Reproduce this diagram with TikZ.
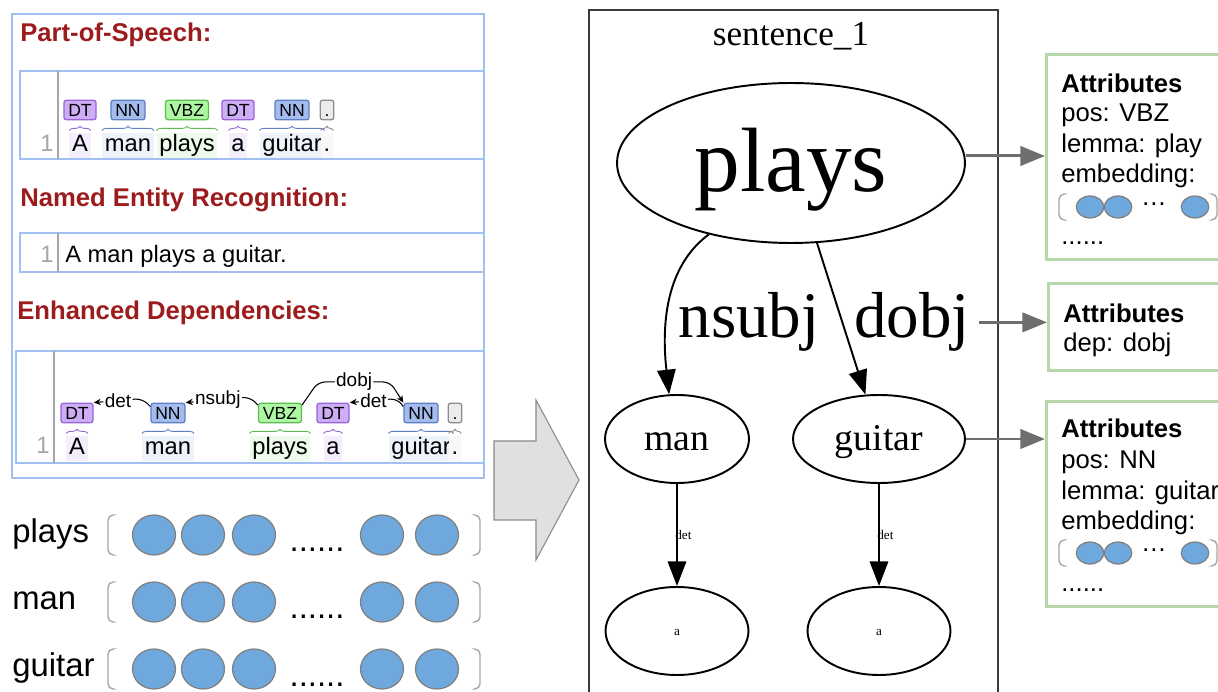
\documentclass[tikz,border=0pt]{standalone}
\usepackage{fontspec}
\setmainfont{Liberation Sans}
\newfontfamily\gvfont{Liberation Serif}
\usetikzlibrary{positioning,shapes.geometric,arrows.meta,decorations.pathreplacing}

\definecolor{hdred}{HTML}{9C1B1D}
\definecolor{panelblue}{HTML}{A2BFF2}
\definecolor{numgray}{HTML}{A6A6A6}
\definecolor{dtfill}{HTML}{CCADF6}
\definecolor{dtline}{HTML}{9A63D8}
\definecolor{dtword}{HTML}{F4EEFC}
\definecolor{nnfill}{HTML}{A4BCED}
\definecolor{nnline}{HTML}{5F7FC4}
\definecolor{nnword}{HTML}{EEF2FB}
\definecolor{vbfill}{HTML}{ADF6A2}
\definecolor{vbline}{HTML}{5DBB52}
\definecolor{vbword}{HTML}{EEFBEC}
\definecolor{pufill}{HTML}{EBEBEB}
\definecolor{puline}{HTML}{8C8C8C}
\definecolor{puword}{HTML}{F8F8F8}
\definecolor{embblue}{HTML}{6FA8DC}
\definecolor{embedge}{HTML}{7F7F7F}
\definecolor{attrgreen}{HTML}{B6D7A8}
\definecolor{conngray}{HTML}{6E6E6E}
\definecolor{boxdark}{HTML}{3A3A3A}
\definecolor{arrowfill}{HTML}{E0E0E0}
\definecolor{arrowline}{HTML}{8A8A8A}

\newcommand{\setsz}[1]{\fontsize{#1}{#1}\selectfont}
\newcommand{\gvsz}[1]{\gvfont\fontsize{#1}{#1}\selectfont}

\tikzset{
	header/.style={anchor=base west, inner sep=0pt, text=hdred, font=\bfseries\setsz{14.6}},
	panel/.style={draw=panelblue, line width=1.1pt},
	numsep/.style={draw=numgray, line width=0.7pt},
	lineno/.style={anchor=base, inner sep=0pt, text=numgray, font=\setsz{13.5}},
	sent/.style={anchor=base west, inner sep=0pt, font=\setsz{13.5}},
	tag/.style={draw=#1line, fill=#1fill, rounded corners=1.5pt, line width=0.7pt,
		inner xsep=2.5pt, inner ysep=2pt, text height=7.2pt, text depth=0pt, font=\setsz{10}},
	word/.style={fill=#1word, anchor=base, inner xsep=1.5pt, inner ysep=1pt,
		text height=10pt, text depth=2.6pt, font=\setsz{13.5}},
	tagbrace/.style={draw=#1line, line width=0.5pt, decorate, decoration={brace, amplitude=2.5pt}},
	deparc/.style={draw, line width=0.6pt, rounded corners=4pt, -{Stealth[length=4pt, width=3.6pt]}},
	deplbl/.style={fill=white, inner sep=0.8pt, font=\setsz{10.8}},
	emblbl/.style={anchor=base west, inner sep=0pt, font=\setsz{18.7}},
	embdot/.style={ellipse, draw=embedge, fill=embblue, line width=0.7pt,
		minimum width=0.86cm, minimum height=0.8cm, inner sep=0pt},
	attrdot/.style={embdot, minimum width=0.55cm, minimum height=0.44cm},
	brk/.style={draw=numgray, line width=0.8pt, rounded corners=3pt},
	gvnode/.style={draw, ellipse, line width=1.1pt, inner sep=0pt, font=\gvsz{#1},
		text height={0.8*#1pt}, text depth={0.18*#1pt}},
	gvlbl/.style={anchor=base, inner sep=0pt, font=\gvsz{#1}},
	gvedge/.style={draw, line width=1.1pt, -{Triangle[length=14pt, width=10.5pt]}},
	attrbox/.style={draw=attrgreen, line width=1.7pt, anchor=north west, minimum width=4cm, inner sep=0pt},
	attrtxt/.style={anchor=base west, inner sep=0pt, font=\setsz{14.6}},
	attrell/.style={attrtxt, anchor=base, text height=2pt, text depth=0pt},
	attrarrow/.style={draw=conngray, line width=1.7pt, -{Triangle[length=14pt, width=11pt]}}
}

\begin{document}
\begin{tikzpicture}[x=0.02cm, y=-0.02cm]
	\useasboundingbox (0,0) rectangle (1218,692);

	\draw[panel] (12,14) rectangle (484,478);
	\node[header] (hpos) at (20,42) {Part-of-Speech:};
	\draw[panel] (20,71) rectangle (484,159);
	\draw[numsep] (58,71) -- (58,159);
	\node[lineno] (npos) at (47,152) {1};
	\foreach \tg/\w/\x/\c [count=\i] in {DT/A/80/dt, NN/man/128/nn, VBZ/plays/187/vb, DT/a/238/dt, NN/guitar/292/nn, ./{.}/327/pu} {
		\node[tag=\c] (ptag\i) at (\x,110) {\tg};
		\node[word=\c] (pword\i) at (\x,152) {\w};
		\draw[tagbrace=\c] ([yshift=1pt]pword\i.north west) -- ([yshift=1pt]pword\i.north east);
	}

	\node[header] (hner) at (20,207) {Named Entity Recognition:};
	\draw[panel] (20,233) rectangle (484,272);
	\draw[numsep] (58,233) -- (58,272);
	\node[lineno] (nner) at (47,263) {1};
	\node[sent] (ner) at (65,263) {A man plays a guitar.};

	\node[header] (hdep) at (17,320) {Enhanced Dependencies:};
	\draw[panel] (16,351) rectangle (484,463);
	\draw[numsep] (54,351) -- (54,463);
	\node[lineno] (ndep) at (43,454) {1};
	\foreach \tg/\w/\x/\c [count=\i] in {DT/A/77/dt, NN/man/168/nn, VBZ/plays/280/vb, DT/a/333/dt, NN/guitar/421/nn, ./{.}/455/pu} {
		\node[tag=\c] (dtag\i) at (\x,413) {\tg};
		\node[word=\c] (dword\i) at (\x,455) {\w};
		\draw[tagbrace=\c] ([yshift=1pt]dword\i.north west) -- ([yshift=1pt]dword\i.north east);
	}
	\draw[deparc] (dtag2.160) -- ++(-8,-8) -- node[deplbl] {det} (dtag1.north east);
	\draw[deparc] (dtag3.160) -- ++(-8,-8) -- node[deplbl] {nsubj} (dtag2.north east);
	\draw[deparc] (dtag3.20) -- ++(16,-23) -- node[deplbl] {dobj} ++(72,0) -- (dtag5.north west);
	\draw[deparc] (dtag5.160) -- ++(-6,-8) -- node[deplbl] {det} (dtag4.north east);

	\foreach \w/\y in {plays/535, man/602, guitar/669} {
		\node[emblbl] (lbl-\w) at (12,\y+8) {\w};
		\draw[brk] (113,\y-20) -- (108,\y-20) -- (108,\y+20) -- (113,\y+20);
		\draw[brk] (475,\y-20) -- (480,\y-20) -- (480,\y+20) -- (475,\y+20);
		\foreach \cx [count=\k] in {154,203,254,382,437}
			\node[embdot] (emb-\w-\k) at (\cx,\y) {};
		\node[emblbl, anchor=base] (gap-\w) at (317,\y+17) {......};
	}

	\draw[fill=arrowfill, draw=arrowline, line width=0.6pt] (494,441) -- (536,441) -- (536,400) -- (579,480) -- (536,560) -- (536,520) -- (494,520) -- cycle;

	\draw[draw=boxdark, line width=1.5pt] (589,720) -- (589,10) -- (998,10) -- (998,720);
	\node[gvlbl=20] (title) at (791,46) {sentence\_1};
	\node[gvnode=52, minimum width=6.96cm, minimum height=3.2cm] (plays) at (791,163) {plays};
	\node[gvnode=21.5, minimum width=2.88cm, minimum height=1.76cm] (man) at (677,439) {man};
	\node[gvnode=21.5, minimum width=3.44cm, minimum height=1.76cm] (guitar) at (879,439) {guitar};
	\node[gvnode=7.5, minimum width=2.86cm, minimum height=1.76cm] (detman) at (677,631) {a};
	\node[gvnode=7.5, minimum width=2.86cm, minimum height=1.76cm] (detguitar) at (879,631) {a};
	\draw[gvedge] (plays.221) .. controls +(-38,28) and +(-9,-81) .. (man.100);
	\draw[gvedge] (plays.288) -- (guitar.107);
	\node[gvlbl=37] (lnsubj) at (749,338) {nsubj};
	\node[gvlbl=37] (ldobj) at (912,338) {dobj};
	\draw[gvedge] (man) -- node[gvlbl=7.5, anchor=west, xshift=-1.5pt] {det} (detman);
	\draw[gvedge] (guitar) -- node[gvlbl=7.5, anchor=west, xshift=-1.5pt] {det} (detguitar);

	\node[attrbox, minimum height=4.1cm] (box1) at (1045,53) {};
	\foreach \t/\y [count=\i] in {\textbf{Attributes}/93, pos: VBZ/122, lemma: play/153, embedding:/183, {......}/245}
		\node[attrtxt] (attrA\i) at (1061,\y) {\t};
	\draw[brk] (1064,194) -- (1059,194) -- (1059,220) -- (1064,220);
	\draw[brk] (1212,194) -- (1217,194) -- (1217,220) -- (1212,220);
	\foreach \cx [count=\k] in {1090,1118,1195}
		\node[attrdot] (dotA\k) at (\cx,207) {};
	\node[attrell] (ellA) at (1154,206) {…};

	\node[attrbox, minimum height=1.74cm] (box2) at (1047,282) {};
	\foreach \t/\y [count=\i] in {\textbf{Attributes}/323, dep: dobj/352}
		\node[attrtxt] (attrB\i) at (1063,\y) {\t};

	\node[attrbox, minimum height=4.1cm] (box3) at (1045,400) {};
	\foreach \t/\y [count=\i] in {\textbf{Attributes}/438, pos: NN/469, lemma: guitar/500, embedding:/530, {......}/592}
		\node[attrtxt] (attrC\i) at (1061,\y) {\t};
	\draw[brk] (1064,540) -- (1059,540) -- (1059,566) -- (1064,566);
	\draw[brk] (1212,540) -- (1217,540) -- (1217,566) -- (1212,566);
	\foreach \cx [count=\k] in {1090,1118,1195}
		\node[attrdot] (dotC\k) at (\cx,553) {};
	\node[attrell] (ellC) at (1154,552) {…};

	\coordinate (playsout) at ([yshift=4pt]plays.east);
	\coordinate (dobjout) at ([xshift=5pt]ldobj.east);
	\draw[attrarrow] (playsout) -- (playsout -| box1.west);
	\draw[attrarrow] (dobjout) -- (dobjout -| box2.west);
	\draw[attrarrow] (guitar.east) -- (guitar.east -| box3.west);
\end{tikzpicture}
\end{document}
